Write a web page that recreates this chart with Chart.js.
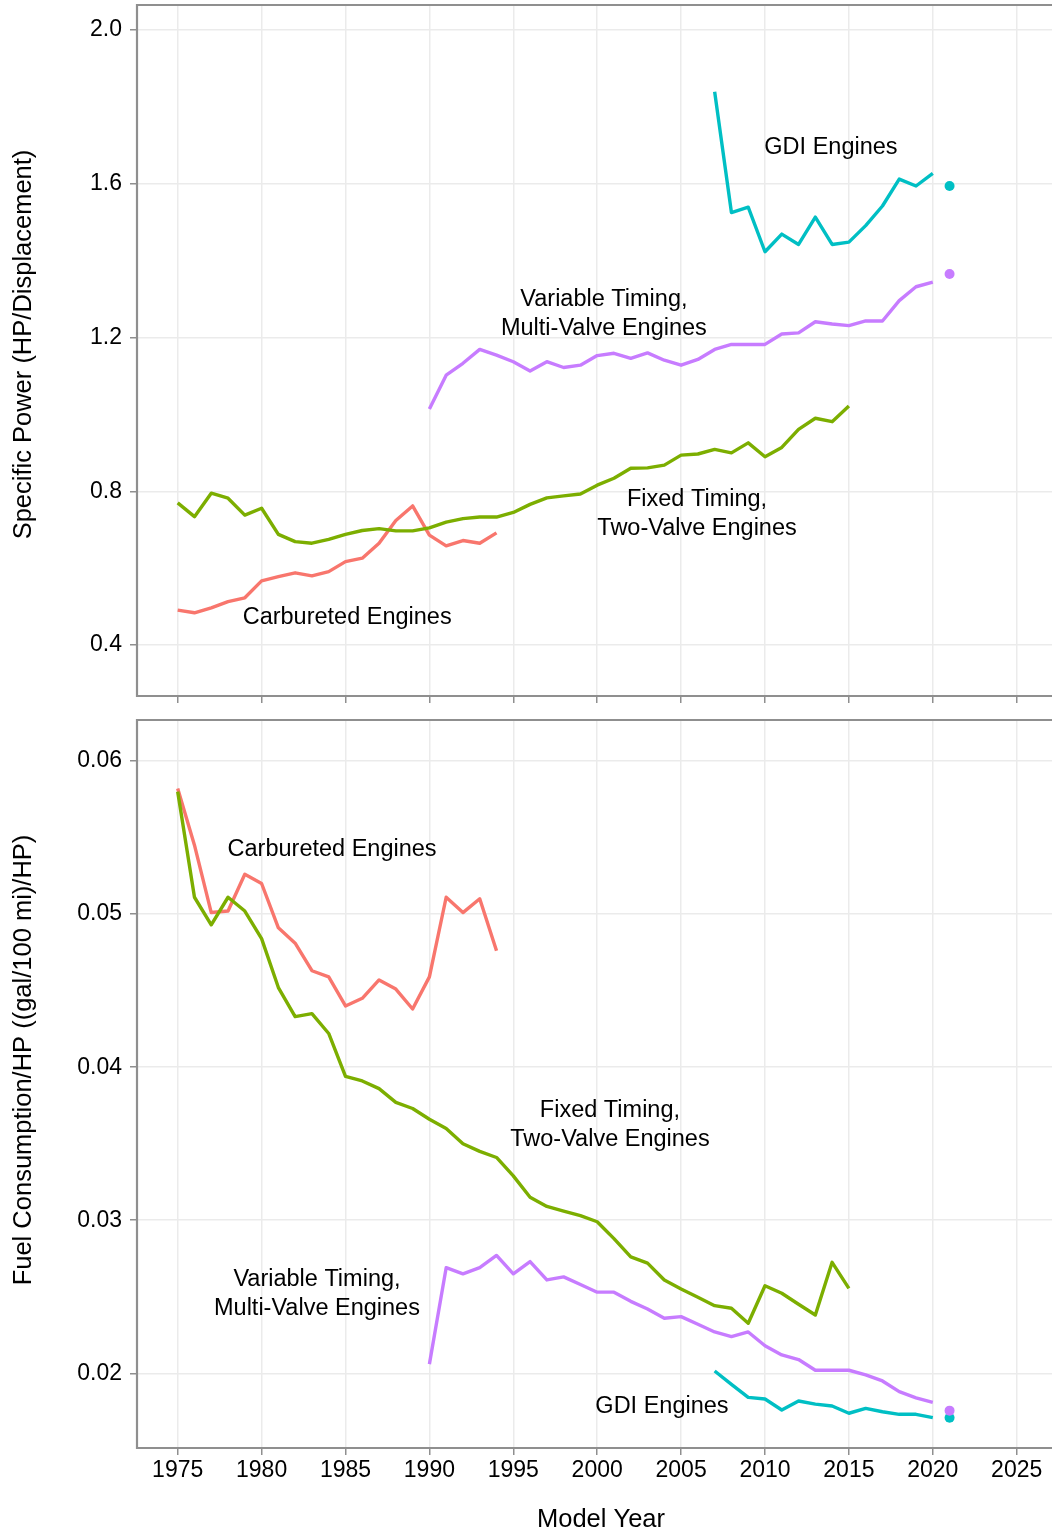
<!DOCTYPE html>
<html>
<head>
<meta charset="utf-8">
<script src="https://cdn.jsdelivr.net/npm/chart.js@4.4.1/dist/chart.umd.min.js"></script>
<style>
  body { margin: 0; background: #fff; }
  #wrap { position: relative; width: 1052px; height: 1535px; }
  canvas { position: absolute; left: 0; }
  #powerChart { top: 0; }
  #fuelChart { top: 718px; }
</style>
</head>
<body>
<div id="wrap">
  <canvas id="powerChart" width="1052" height="718"></canvas>
  <canvas id="fuelChart" width="1052" height="817"></canvas>
</div>
<script>
// first model year of each series
const carbStart = 1975;
const fixedStart = 1975;
const vtStart = 1990;
const gdiStart = 2007;
const latestYear = 2021;

// specific power (HP/displacement)
const carbPower = [0.491, 0.484, 0.497, 0.513, 0.523, 0.567, 0.578, 0.588, 0.580, 0.591,
  0.617, 0.626, 0.665, 0.724, 0.762, 0.686, 0.658, 0.672, 0.665, 0.692];
const fixedPower = [0.770, 0.734, 0.795, 0.782, 0.738, 0.756, 0.688, 0.669, 0.665, 0.675,
  0.688, 0.698, 0.703, 0.697, 0.697, 0.705, 0.720, 0.729, 0.733, 0.733,
  0.745, 0.766, 0.783, 0.788, 0.793, 0.816, 0.834, 0.860, 0.861, 0.868,
  0.894, 0.897, 0.909, 0.900, 0.926, 0.890, 0.914, 0.961, 0.990, 0.981, 1.022];
const vtPower = [1.014, 1.102, 1.133, 1.169, 1.154, 1.137, 1.113, 1.137, 1.122, 1.128,
  1.153, 1.159, 1.146, 1.160, 1.141, 1.128, 1.143, 1.169, 1.182, 1.182,
  1.182, 1.209, 1.212, 1.241, 1.235, 1.231, 1.243, 1.243, 1.296, 1.332, 1.344];
const gdiPower = [1.839, 1.525, 1.539, 1.423, 1.469, 1.442, 1.513, 1.442, 1.448, 1.491,
  1.542, 1.612, 1.594, 1.627];
const vtPowerLatest = 1.365;
const gdiPowerLatest = 1.594;

// fuel consumption per HP ((gal/100 mi)/HP)
const carbFuel = [0.0582, 0.0545, 0.0501, 0.0502, 0.0526, 0.0520, 0.0491, 0.0481, 0.0463, 0.0459,
  0.0440, 0.0445, 0.0457, 0.0451, 0.0438, 0.0459, 0.0511, 0.0501, 0.0510, 0.0476];
const fixedFuel = [0.0580, 0.0511, 0.0493, 0.0511, 0.0502, 0.0484, 0.0452, 0.0433, 0.0435, 0.0422,
  0.0394, 0.0391, 0.0386, 0.0377, 0.0373, 0.0366, 0.0360, 0.0350, 0.0345, 0.0341,
  0.0329, 0.0315, 0.0309, 0.0306, 0.0303, 0.0299, 0.0288, 0.0276, 0.0272, 0.0261,
  0.02551, 0.02497, 0.02442, 0.02425, 0.02327, 0.02572, 0.02523, 0.02451, 0.02381, 0.02725, 0.02555];
const vtFuel = [0.0206, 0.0269, 0.0265, 0.0269, 0.0277, 0.0265, 0.0273, 0.0261, 0.0263, 0.0258,
  0.0253, 0.0253, 0.0247, 0.0242, 0.0236, 0.0237, 0.0232, 0.0227, 0.0224, 0.0227,
  0.0218, 0.0212, 0.0209, 0.0202, 0.0202, 0.0202, 0.0199, 0.0195, 0.0188, 0.0184, 0.0181];
const gdiFuel = [0.02015, 0.01928, 0.01843, 0.01832, 0.01760, 0.01819, 0.01799, 0.01786, 0.01739, 0.01771,
  0.01749, 0.01732, 0.01732, 0.01710];
const vtFuelLatest = 0.01756;
const gdiFuelLatest = 0.01710;

// ticks
const yearTicks = [1975, 1980, 1985, 1990, 1995, 2000, 2005, 2010, 2015, 2020, 2025];
const powerTicks = [0.4, 0.8, 1.2, 1.6, 2.0];
const fuelTicks = [0.02, 0.03, 0.04, 0.05, 0.06];

const FONT = "'Liberation Sans', Arial, Helvetica, sans-serif";
const colors = { carb: '#F8766D', fixed: '#7CAE00', gdi: '#00BFC4', vt: '#C77CFF' };

const series = (start, values) => values.map((v, i) => ({ x: start + i, y: v }));

function buildDatasets(carb, fixed, vt, gdi, vtLast, gdiLast) {
    // index 0 is drawn on top
    return [
        { data: [{ x: latestYear, y: vtLast }], showLine: false, pointRadius: 5, pointBackgroundColor: colors.vt, pointBorderWidth: 0 },
        { data: [{ x: latestYear, y: gdiLast }], showLine: false, pointRadius: 5, pointBackgroundColor: colors.gdi, pointBorderWidth: 0 },
        { data: series(vtStart, vt), borderColor: colors.vt },
        { data: series(gdiStart, gdi), borderColor: colors.gdi },
        { data: series(fixedStart, fixed), borderColor: colors.fixed },
        { data: series(carbStart, carb), borderColor: colors.carb },
    ];
}

const panelFrame = {
    id: 'panelFrame',
    afterDraw(chart) {
        const { ctx, chartArea: a } = chart;
        ctx.save();
        ctx.strokeStyle = '#8f8f8f';
        ctx.lineWidth = 2.2;
        ctx.beginPath();
        ctx.moveTo(a.right + 2, a.top);
        ctx.lineTo(a.left, a.top);
        ctx.lineTo(a.left, a.bottom);
        ctx.lineTo(a.right + 2, a.bottom);
        ctx.stroke();
        ctx.restore();
    }
};

const engineLabels = {
    id: 'engineLabels',
    afterDatasetsDraw(chart, args, opts) {
        const { ctx, scales: { x, y } } = chart;
        ctx.save();
        ctx.font = '23.5px ' + FONT;
        ctx.fillStyle = '#000';
        ctx.textAlign = 'center';
        ctx.textBaseline = 'middle';
        opts.items.forEach(item => {
            const px = x.getPixelForValue(item.year);
            const py = y.getPixelForValue(item.value);
            item.text.forEach((line, i) => {
                ctx.fillText(line, px, py + (i - (item.text.length - 1) / 2) * 29);
            });
        });
        ctx.restore();
    }
};

const axisTitles = {
    id: 'axisTitles',
    afterDraw(chart, args, opts) {
        const ctx = chart.ctx;
        ctx.save();
        ctx.font = '25.5px ' + FONT;
        ctx.fillStyle = '#000';
        ctx.textAlign = 'center';
        ctx.textBaseline = 'middle';
        opts.items.forEach(t => {
            ctx.save();
            ctx.translate(t.x, t.y);
            ctx.rotate(t.rotate || 0);
            ctx.fillText(t.text, 0, 0);
            ctx.restore();
        });
        ctx.restore();
    }
};

function makeOptions(cfg) {
    return {
        responsive: false,
        animation: false,
        events: [],
        layout: { padding: cfg.padding, autoPadding: false },
        elements: {
            line: { borderWidth: 3.4, tension: 0, borderJoinStyle: 'round', fill: false },
            point: { radius: 0 }
        },
        plugins: {
            legend: { display: false },
            tooltip: { enabled: false },
            engineLabels: { items: cfg.labels },
            axisTitles: { items: cfg.titles }
        },
        scales: {
            x: {
                type: 'linear',
                min: 1972.575,
                max: 2027.104,
                afterBuildTicks: s => { s.ticks = yearTicks.map(v => ({ value: v })); },
                afterFit: s => {
                    if (cfg.xHeight) s.height = cfg.xHeight;
                    s.paddingLeft = 0;
                    s.paddingRight = 0;
                },
                border: { display: false },
                grid: { color: '#ebebeb', lineWidth: 1.5, tickLength: 7, tickColor: '#8f8f8f', tickWidth: 1.5 },
                ticks: {
                    display: cfg.showYears,
                    padding: 2,
                    color: '#000',
                    font: { family: FONT, size: 23 },
                    maxRotation: 0,
                    callback: v => String(v)
                }
            },
            y: {
                type: 'linear',
                min: cfg.yMin,
                max: cfg.yMax,
                afterBuildTicks: s => { s.ticks = cfg.yTicks.map(v => ({ value: v })); },
                afterFit: s => {
                    s.width = 137;
                    s.paddingTop = 0;
                    s.paddingBottom = 0;
                },
                border: { display: false },
                grid: { color: '#ebebeb', lineWidth: 1.5, tickLength: 7, tickColor: '#8f8f8f', tickWidth: 1.5 },
                ticks: {
                    padding: 8,
                    color: '#000',
                    font: { family: FONT, size: 23 },
                    callback: v => v.toFixed(cfg.digits)
                }
            }
        }
    };
}

new Chart(document.getElementById('powerChart'), {
    type: 'line',
    data: { datasets: buildDatasets(carbPower, fixedPower, vtPower, gdiPower, vtPowerLatest, gdiPowerLatest) },
    plugins: [panelFrame, engineLabels, axisTitles],
    options: makeOptions({
        padding: { top: 5, bottom: 15, left: 0, right: 0 },
        showYears: false,
        yMin: 0.2676, yMax: 2.0648, yTicks: powerTicks, digits: 1,
        labels: [
            { text: ['GDI Engines'], year: 2013.93, value: 1.695 },
            { text: ['Variable Timing,', 'Multi-Valve Engines'], year: 2000.4, value: 1.261 },
            { text: ['Fixed Timing,', 'Two-Valve Engines'], year: 2005.95, value: 0.741 },
            { text: ['Carbureted Engines'], year: 1985.1, value: 0.473 }
        ],
        titles: [
            { text: 'Specific Power (HP/Displacement)', x: 24, y: 344.5, rotate: -Math.PI / 2 }
        ]
    })
});

new Chart(document.getElementById('fuelChart'), {
    type: 'line',
    data: { datasets: buildDatasets(carbFuel, fixedFuel, vtFuel, gdiFuel, vtFuelLatest, gdiFuelLatest) },
    plugins: [panelFrame, engineLabels, axisTitles],
    options: makeOptions({
        padding: { top: 2, bottom: 0, left: 0, right: 0 },
        showYears: true,
        xHeight: 87,
        yMin: 0.01512, yMax: 0.06268, yTicks: fuelTicks, digits: 2,
        labels: [
            { text: ['Carbureted Engines'], year: 1984.2, value: 0.05425 },
            { text: ['Fixed Timing,', 'Two-Valve Engines'], year: 2000.76, value: 0.03619 },
            { text: ['Variable Timing,', 'Multi-Valve Engines'], year: 1983.3, value: 0.02515 },
            { text: ['GDI Engines'], year: 2003.86, value: 0.01786 }
        ],
        titles: [
            { text: 'Fuel Consumption/HP ((gal/100 mi)/HP)', x: 24, y: 342, rotate: -Math.PI / 2 },
            { text: 'Model Year', x: 601, y: 802, rotate: 0 }
        ]
    })
});
</script>
</body>
</html>
